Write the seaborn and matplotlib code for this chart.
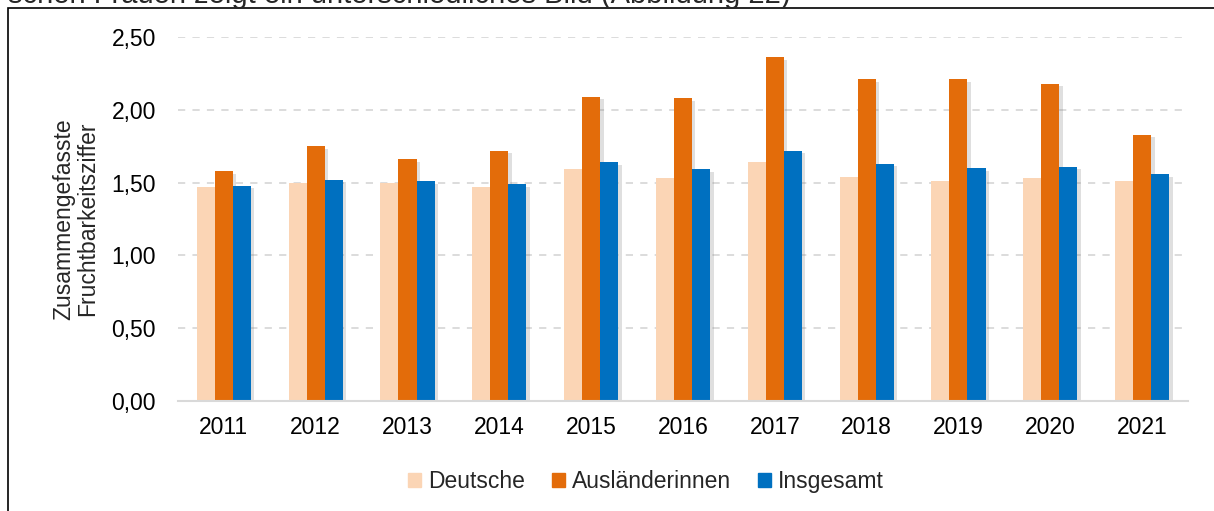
import pandas as pd
import matplotlib
matplotlib.use("Agg")
import matplotlib.pyplot as plt
import matplotlib.patheffects as pe
from matplotlib.patches import Rectangle
import seaborn as sns

years = ["2011", "2012", "2013", "2014", "2015", "2016", "2017", "2018", "2019", "2020", "2021"]
deutsche = [1.47, 1.50, 1.50, 1.47, 1.59, 1.53, 1.64, 1.54, 1.51, 1.53, 1.51]
auslaenderinnen = [1.58, 1.75, 1.66, 1.72, 2.09, 2.08, 2.36, 2.21, 2.21, 2.18, 1.83]
insgesamt = [1.48, 1.52, 1.51, 1.49, 1.64, 1.59, 1.72, 1.63, 1.60, 1.61, 1.56]
groups = ["Deutsche", "Ausländerinnen", "Insgesamt"]
colors = ["#FBD5B5", "#E36C0A", "#0070C0"]

df = pd.DataFrame({"Jahr": years, "Deutsche": deutsche,
                   "Ausländerinnen": auslaenderinnen, "Insgesamt": insgesamt})
df = df.melt(id_vars="Jahr", var_name="Gruppe", value_name="Wert")

sns.set_style("white")
plt.rcParams["font.family"] = ["Liberation Sans", "DejaVu Sans"]
fs = 16.5

fig = plt.figure(figsize=(12.14, 5.11), dpi=100)
ax = fig.add_axes([0.1466, 0.2153, 0.9786 - 0.1466, 0.9276 - 0.2153])

sns.barplot(data=df, x="Jahr", y="Wert", hue="Gruppe", hue_order=groups,
            palette=colors, width=0.59, gap=0, saturation=1, ax=ax, legend=False)

# soft shadow like the original office chart
for bar in ax.patches:
    bar.set_path_effects([pe.SimplePatchShadow(offset=(2.5, -2), shadow_rgbFace="#808080", alpha=0.25),
                          pe.Normal()])
    bar.set_linewidth(0)

ax.set_ylim(0, 2.5)
ax.set_xlim(-0.5, 10.5)
ax.set_yticks([0, 0.5, 1.0, 1.5, 2.0, 2.5])
ax.set_yticklabels(["0,00", "0,50", "1,00", "1,50", "2,00", "2,50"])
ax.yaxis.grid(True, color="#D9D9D9", linestyle=(0, (4, 4)), linewidth=1.3)
ax.set_axisbelow(True)
for s in ["top", "right", "left"]:
    ax.spines[s].set_visible(False)
ax.spines["bottom"].set_color("#D9D9D9")
ax.spines["bottom"].set_linewidth(1.5)
ax.tick_params(axis="both", length=0, labelsize=fs, colors="black")
ax.tick_params(axis="y", pad=16)
ax.tick_params(axis="x", pad=11)
ax.set_xlabel("")
ax.set_ylabel("Zusammengefasste\nFruchtbarkeitsziffer", fontsize=fs, labelpad=9, linespacing=1.05)

handles = [Rectangle((0, 0), 1, 1, color=c) for c in colors]
fig.legend(handles, groups, loc="center", bbox_to_anchor=(0.532, 0.057), ncol=3,
           frameon=False, fontsize=fs, handlelength=0.55, handleheight=0.55,
           handletextpad=0.3, columnspacing=1.2)

# frame of the chart box and cut-off text line above it
fig.add_artist(Rectangle((8 / 1214, -0.1), 1.2, 1 - 8 / 511 + 0.1, transform=fig.transFigure,
                         fill=False, edgecolor="black", linewidth=1.2))
fig.text(8 / 1214, 1 - 3 / 511, "schen Frauen zeigt ein unterschiedliches Bild (Abbildung 22)",
         fontsize=21, va="baseline", ha="left")

fig.savefig("out.png", dpi=100)
